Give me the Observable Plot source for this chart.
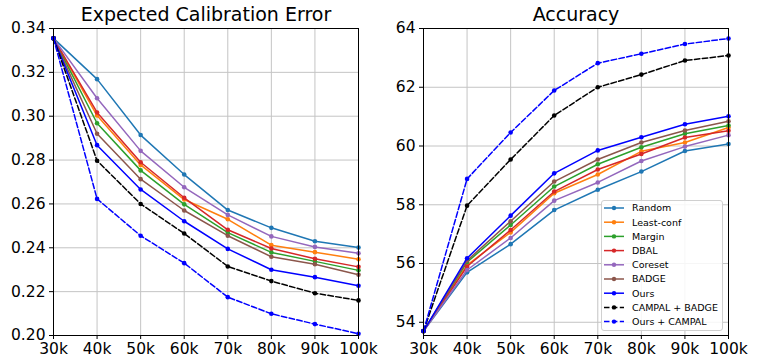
<!DOCTYPE html>
<html><head><meta charset="utf-8">
<script src="https://cdn.jsdelivr.net/npm/d3@7"></script>
<script src="https://cdn.jsdelivr.net/npm/@observablehq/plot@0.6"></script>
<style>
body{margin:0;background:#fff;font-family:"DejaVu Sans",sans-serif;}
#wrap{position:relative;width:757px;height:360px;overflow:hidden;background:#fff}
#left,#right,#legend{position:absolute;top:0}
#left{left:0}
#right{left:380px}
#legend{left:601px;top:200px}
svg{overflow:visible}
</style></head><body>
<div id="wrap"><div id="left"></div><div id="right"></div><div id="legend"></div></div>
<script>
// ---- data ----
const budgets = [30, 40, 50, 60, 70, 80, 90, 100]; // thousands of labels
const xTickLabels = ["30k", "40k", "50k", "60k", "70k", "80k", "90k", "100k"];
const eceTicks = [0.20, 0.22, 0.24, 0.26, 0.28, 0.30, 0.32, 0.34];
const accTicks = [54, 56, 58, 60, 62, 64];
const titles = ["Expected Calibration Error", "Accuracy"];
const methods = ["Random", "Least-conf", "Margin", "DBAL", "Coreset", "BADGE", "Ours", "CAMPAL + BADGE", "Ours + CAMPAL"];
const colors = ["#1f77b4", "#ff7f0e", "#2ca02c", "#d62728", "#9467bd", "#8c564b", "#0000ff", "#000000", "#0000ff"];
const dashed = [false, false, false, false, false, false, false, true, true];

const eceRandom     = [0.3355, 0.3169, 0.2914, 0.2734, 0.2572, 0.2491, 0.2430, 0.2401];
const eceLeastConf  = [0.3355, 0.3003, 0.2778, 0.2620, 0.2530, 0.2412, 0.2380, 0.2348];
const eceMargin     = [0.3355, 0.2968, 0.2753, 0.2598, 0.2469, 0.2379, 0.2338, 0.2297];
const eceDBAL       = [0.3355, 0.3017, 0.2790, 0.2628, 0.2482, 0.2397, 0.2350, 0.2313];
const eceCoreset    = [0.3355, 0.3082, 0.2842, 0.2676, 0.2550, 0.2452, 0.2404, 0.2375];
const eceBADGE      = [0.3355, 0.2920, 0.2713, 0.2570, 0.2455, 0.2359, 0.2325, 0.2277];
const eceOurs       = [0.3355, 0.2868, 0.2666, 0.2521, 0.2395, 0.2300, 0.2266, 0.2227];
const eceCampalBadge= [0.3355, 0.2797, 0.2600, 0.2465, 0.2315, 0.2248, 0.2193, 0.2160];
const eceOursCampal = [0.3355, 0.2623, 0.2455, 0.2330, 0.2175, 0.2099, 0.2052, 0.2008];

const accRandom     = [53.70, 55.70, 56.66, 57.82, 58.51, 59.13, 59.83, 60.07];
const accLeastConf  = [53.70, 55.95, 57.06, 58.39, 59.03, 59.82, 60.12, 60.63];
const accMargin     = [53.70, 56.05, 57.31, 58.62, 59.38, 59.96, 60.42, 60.70];
const accDBAL       = [53.70, 55.90, 57.14, 58.45, 59.20, 59.73, 60.29, 60.52];
const accCoreset    = [53.70, 55.78, 56.87, 58.14, 58.76, 59.49, 59.98, 60.37];
const accBADGE      = [53.70, 56.10, 57.44, 58.79, 59.54, 60.12, 60.53, 60.84];
const accOurs       = [53.70, 56.18, 57.63, 59.07, 59.85, 60.30, 60.74, 61.01];
const accCampalBadge= [53.70, 57.97, 59.54, 61.04, 62.00, 62.43, 62.91, 63.08];
const accOursCampal = [53.70, 58.88, 60.46, 61.89, 62.82, 63.14, 63.47, 63.66];

const eceSeries = [eceRandom, eceLeastConf, eceMargin, eceDBAL, eceCoreset, eceBADGE, eceOurs, eceCampalBadge, eceOursCampal];
const accSeries = [accRandom, accLeastConf, accMargin, accDBAL, accCoreset, accBADGE, accOurs, accCampalBadge, accOursCampal];

// ---- drawing ----
const FONT = "DejaVu Sans, sans-serif";
const tickFmt = d => xTickLabels[budgets.indexOf(d)];

function seriesMarks(series) {
  const marks = [];
  series.forEach((vals, i) => {
    const data = budgets.map((b, j) => ({b, v: vals[j]}));
    marks.push(Plot.line(data, {x: "b", y: "v", stroke: colors[i], strokeWidth: 1.5,
      strokeDasharray: dashed[i] ? "5.5,2.4" : null}));
    marks.push(Plot.dot(data, {x: "b", y: "v", r: 2.3, fill: colors[i], stroke: "none"}));
  });
  return marks;
}

function panel(series, yDomain, yTicks, yFmt, title, width, mL, mR) {
  return Plot.plot({
    width, height: 360,
    marginLeft: mL, marginRight: mR, marginTop: 28, marginBottom: 25,
    style: {fontFamily: FONT, fontSize: "15.5px", color: "#000", background: "transparent", overflow: "visible"},
    x: {domain: [30, 100], label: null},
    y: {domain: yDomain, label: null},
    marks: [
      Plot.gridX(budgets, {stroke: "#c4c4c4", strokeOpacity: 1, strokeWidth: 1}),
      Plot.gridY(yTicks, {stroke: "#c4c4c4", strokeOpacity: 1, strokeWidth: 1}),
      ...seriesMarks(series),
      Plot.frame({stroke: "#000", strokeWidth: 1}),
      Plot.axisX(budgets, {tickFormat: tickFmt, tickSize: 4, tickPadding: 3, fontSize: 15.5, label: null}),
      Plot.axisY(yTicks, {tickFormat: yFmt, tickSize: 4, tickPadding: 4, fontSize: 15.5, label: null}),
      Plot.text([title], {frameAnchor: "top", dy: -8, lineAnchor: "bottom", fontSize: 19, fill: "#000"})
    ]
  });
}

document.getElementById("left").appendChild(
  panel(eceSeries, [0.20, 0.34], eceTicks, d => d.toFixed(2), titles[0], 380, 53, 22));
document.getElementById("right").appendChild(
  panel(accSeries, [53.55, 64], accTicks, d => String(d), titles[1], 377, 43, 29));

// legend
const LW = 122, LH = 131, rowH = 14.2, top0 = 8;
const lg = d3.create("svg").attr("width", LW).attr("height", LH).style("font-family", FONT);
lg.append("rect").attr("x", 0.5).attr("y", 0.5).attr("width", LW - 1).attr("height", LH - 1)
  .attr("rx", 2.5).attr("fill", "#fff").attr("fill-opacity", 0.85).attr("stroke", "#d0d0d0");
methods.forEach((m, i) => {
  const y = top0 + i * rowH;
  const g = lg.append("g").attr("transform", `translate(0,${y})`);
  g.append("line").attr("x1", 3).attr("x2", 23).attr("y1", 0).attr("y2", 0)
    .attr("stroke", colors[i]).attr("stroke-width", 1.5)
    .attr("stroke-dasharray", dashed[i] ? "5.5,2.4" : null);
  g.append("circle").attr("cx", 13).attr("cy", 0).attr("r", 2.2).attr("fill", colors[i]);
  g.append("text").attr("x", 31).attr("y", 0).attr("dy", "0.35em").attr("font-size", 9.5)
    .attr("fill", "#000").text(m);
});
document.getElementById("legend").appendChild(lg.node());
</script>
</body></html>
